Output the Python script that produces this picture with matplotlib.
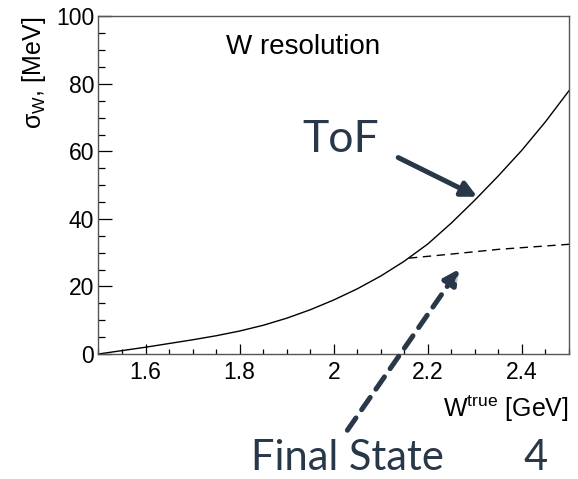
import matplotlib
matplotlib.use("Agg")
import matplotlib.pyplot as plt
from matplotlib import patheffects as pe
from matplotlib.ticker import MultipleLocator

plt.rcParams["font.family"] = ["Liberation Sans", "DejaVu Sans"]
plt.rcParams["mathtext.fontset"] = "custom"
plt.rcParams["mathtext.rm"] = "Liberation Sans"
plt.rcParams["mathtext.it"] = "Liberation Sans:italic"

# W resolution, ToF (solid) and final-state (dashed)
w_tof = [1.50, 1.55, 1.60, 1.65, 1.70, 1.75, 1.80, 1.85, 1.90, 1.95, 2.00,
         2.05, 2.10, 2.15, 2.20, 2.25, 2.30, 2.35, 2.40, 2.45, 2.50]
sigma_tof = [0.0, 1.0, 2.0, 3.1, 4.2, 5.4, 6.8, 8.5, 10.6, 13.1, 16.0,
             19.3, 23.1, 27.5, 32.6, 38.8, 45.6, 52.8, 60.4, 68.8, 78.0]
w_fs = [2.16, 2.25, 2.35, 2.50]
sigma_fs = [28.4, 29.6, 31.0, 32.5]

x_ticks = [1.6, 1.8, 2.0, 2.2, 2.4]
x_ticklabels = ["1.6", "1.8", "2", "2.2", "2.4"]
y_ticks = [0, 20, 40, 60, 80, 100]

slate = "#283848"
frame = "#555555"

fig = plt.figure(figsize=(5.78, 4.79), dpi=100)
ax = fig.add_axes([0.1704, 0.261, 0.8140, 0.7046])

ax.plot(w_tof, sigma_tof, color="black", lw=1.0)
ax.plot(w_fs, sigma_fs, color="black", lw=1.0, ls=(0, (6, 4)))

ax.set_xlim(1.5, 2.5)
ax.set_ylim(0, 100)
ax.set_xticks(x_ticks)
ax.set_xticklabels(x_ticklabels)
ax.set_yticks(y_ticks)
ax.xaxis.set_minor_locator(MultipleLocator(0.05))
ax.yaxis.set_minor_locator(MultipleLocator(5))
ax.tick_params(axis="both", which="both", direction="in", colors="black",
               labelsize=16.5, width=0.9)
ax.tick_params(axis="x", which="major", length=7.2, pad=5)
ax.tick_params(axis="x", which="minor", length=3.6)
ax.tick_params(axis="y", which="major", length=10, pad=3)
ax.tick_params(axis="y", which="minor", length=5)
for sp in ax.spines.values():
    sp.set_color(frame)
    sp.set_linewidth(1.0)

ax.set_ylabel("σ$_{\\mathrm{W}}$, [MeV]", fontsize=18, loc="top", labelpad=6)
ax.set_xlabel("W$^{\\mathrm{true}}$ [GeV]", fontsize=18, loc="right", labelpad=7)

ax.text(0.27, 0.91, "W resolution", transform=ax.transAxes, fontsize=20,
        ha="left", va="center")

shadow = [pe.SimplePatchShadow(offset=(1.5, -1.5), alpha=0.25), pe.Normal()]

# ToF label and arrow
ax.text(2.015, 63.5, "ToF", fontsize=32, color=slate, family="Lato",
        ha="center", va="center")
ax.annotate("", xy=(w_tof[16] + 0.005, sigma_tof[16] + 1.0), xytext=(2.137, 58.2),
            arrowprops=dict(arrowstyle="-|>,head_length=0.9,head_width=0.45",
                            color=slate, lw=3.6, shrinkA=0, shrinkB=0,
                            path_effects=shadow))

# Final State label and dashed arrow
ax.annotate("", xy=(2.267, 25.2), xytext=(2.029, -22.6), annotation_clip=False,
            arrowprops=dict(arrowstyle="-|>,head_length=0.9,head_width=0.45",
                            color=slate, lw=3.6, ls=(0, (3, 2)),
                            shrinkA=0, shrinkB=0, path_effects=shadow))
fig.text(347.5 / 578, 1 - 458 / 479, "Final State", fontsize=30, color=slate,
         family="Lato", ha="center", va="center")
fig.text(536 / 578, 1 - 458 / 479, "4", fontsize=30, color=slate,
         family="Lato", ha="center", va="center")

fig.savefig("out.png", dpi=100)
